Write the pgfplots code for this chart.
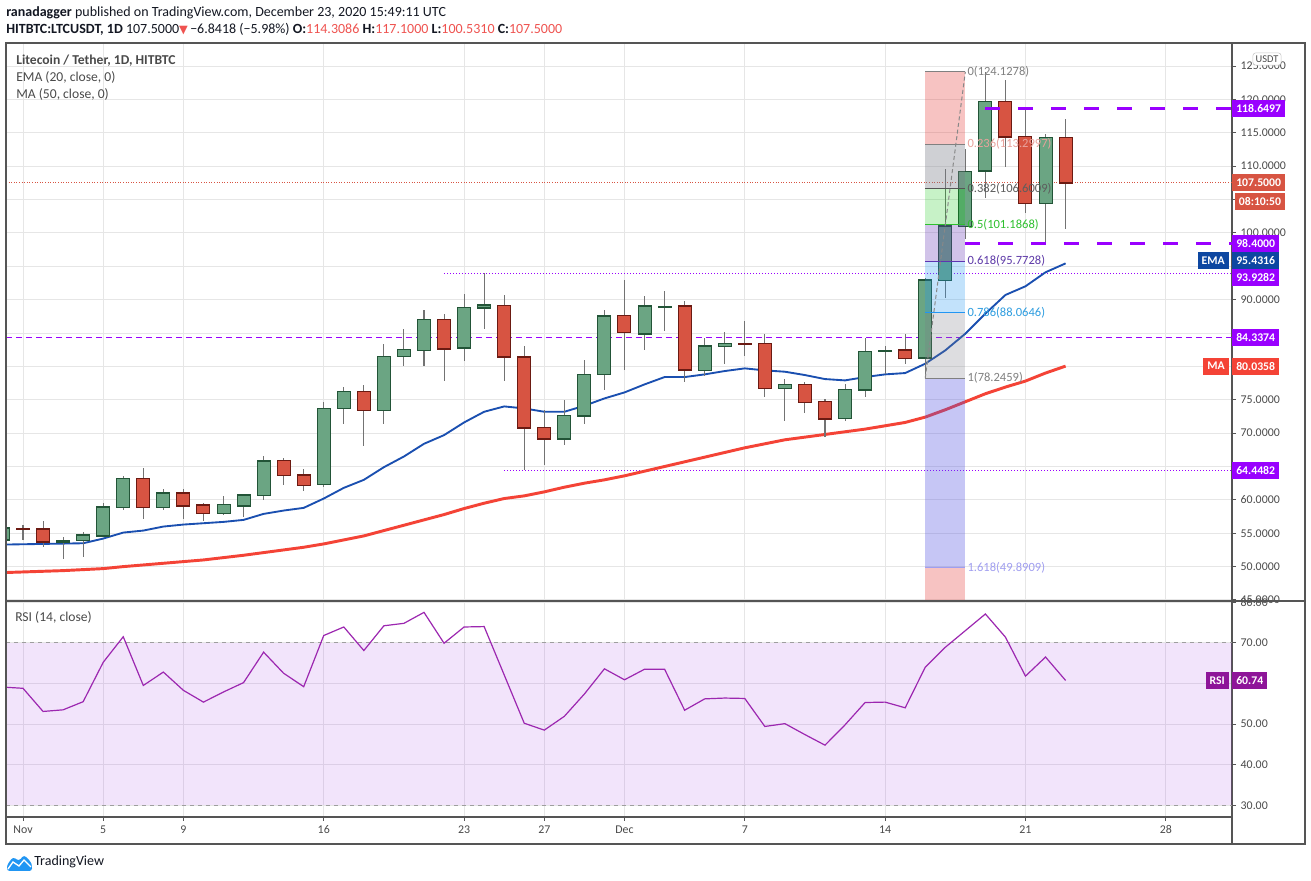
\documentclass[border=0pt]{standalone}
\usepackage{fontspec}
\setmainfont{Carlito}
\newfontfamily\dejavu{DejaVu Sans}
\usepackage{pgfplots}
\usepackage{pgfplotstable}
\pgfplotsset{compat=1.18}

\definecolor{txt}{HTML}{4A4A4A}
\definecolor{framec}{HTML}{555555}
\definecolor{gridc}{HTML}{E6E6E6}
\definecolor{upfill}{HTML}{6BA583}
\definecolor{upline}{HTML}{225437}
\definecolor{dnfill}{HTML}{D75442}
\definecolor{dnline}{HTML}{6B1A12}
\definecolor{wick}{HTML}{737373}
\definecolor{emac}{HTML}{1A4FB0}
\definecolor{mac}{HTML}{F44336}
\definecolor{vio}{HTML}{9900FF}
\definecolor{rsic}{HTML}{9C27B0}
\definecolor{rsibox}{HTML}{8E1599}
\definecolor{emabox}{HTML}{0D47A1}
\definecolor{pricered}{HTML}{D75442}
\definecolor{hdrred}{HTML}{EF5350}
\definecolor{rsifill}{RGB}{155,38,230}
\definecolor{tvblue}{HTML}{2196F3}
\definecolor{fibred}{HTML}{E53935}
\definecolor{fibgray}{HTML}{787B86}
\definecolor{fibgreen}{HTML}{00C800}
\definecolor{fibpurple}{HTML}{673AB7}
\definecolor{fibblue}{HTML}{2196F3}
\definecolor{fibperi}{HTML}{5050E0}
\definecolor{c808080}{HTML}{808080}
\definecolor{c555555}{HTML}{555555}
\definecolor{c2FC02F}{HTML}{2FC02F}
\definecolor{c5E35B1}{HTML}{5E35B1}
\definecolor{c2196F3}{HTML}{2196F3}
\definecolor{cA09EF0}{HTML}{A09EF0}
\definecolor{c888888}{HTML}{888888}
\definecolor{cE9A29C}{HTML}{E9A29C}
\definecolor{c5D5D5D}{HTML}{5D5D5D}
\definecolor{c5E3AA8}{HTML}{5E3AA8}
\definecolor{c2E9DE0}{HTML}{2E9DE0}
\definecolor{c9E9E9E}{HTML}{9E9E9E}
\definecolor{cC8C8C8}{HTML}{C8C8C8}
\definecolor{c131722}{HTML}{131722}

\newcommand\hdr{\fontsize{10.5}{12}\selectfont}
\newcommand\lgd{\fontsize{10.2}{12}\selectfont}
\newcommand\tk{\fontsize{8.9}{10}\selectfont}
\newcommand\bx{\fontsize{8.8}{10}\selectfont\bfseries}
\newcommand\fibf{\fontsize{9.4}{10}\selectfont}

% green (up) candles: day o h l c
\pgfplotstableread{
d o h l c
0 54.0 56.0 53.6 55.75
3 53.7 54.4 51.2 53.9
4 53.9 55.2 51.5 54.7
5 54.6 59.6 54.5 58.9
6 58.9 63.6 58.5 63.2
8 58.9 61.7 58.5 61.0
11 58.0 60.6 57.7 59.3
12 59.1 60.7 57.5 60.7
13 60.7 66.6 60.0 65.8
16 62.3 74.6 62.0 73.7
17 73.7 76.9 71.4 76.2
19 73.4 83.3 71.4 81.5
20 81.5 85.6 80.0 82.5
21 82.4 88.4 80.0 87.0
23 82.8 90.8 80.8 88.8
24 88.8 93.93 85.6 89.2
28 69.1 74.9 68.2 72.6
29 72.6 80.9 71.4 78.8
30 78.8 88.4 76.4 87.5
32 84.9 90.5 82.4 89.0
33 88.85 91.3 85.3 88.95
35 79.4 84.3 78.5 83.0
36 83.0 85.1 80.3 83.4
39 76.7 78.1 71.8 77.3
42 72.2 77.4 71.8 76.5
43 76.5 84.3 75.4 82.2
44 82.25 83.0 78.9 82.35
46 81.3 93.2 78.25 92.9
47 92.9 109.6 90.3 101.0
48 101.0 112.6 99.1 109.2
49 109.3 124.13 105.3 119.7
52 104.4 114.8 98.4 114.3
}\upc

% red (down) candles
\pgfplotstableread{
d o h l c
1 55.62 56.2 54.0 55.55
2 55.6 56.8 53.0 53.7
7 63.2 64.8 57.1 58.9
9 61.0 61.6 57.2 59.1
10 59.2 59.5 56.9 58.0
14 65.9 66.2 62.2 63.7
15 63.7 64.6 61.3 62.2
18 76.2 77.2 68.0 73.4
22 87.0 87.8 77.8 82.6
25 89.1 90.7 77.8 81.4
26 81.4 83.0 64.45 70.8
27 70.8 73.4 65.2 69.1
31 87.6 92.9 79.4 85.1
34 89.0 89.8 77.7 79.5
37 83.35 86.8 81.5 83.28
38 83.4 84.8 75.4 76.7
40 77.3 77.6 73.0 74.6
41 74.7 75.1 69.4 72.1
45 82.4 84.8 80.3 81.2
50 119.7 122.9 109.8 114.4
51 114.4 118.65 103.0 104.4
53 114.31 117.1 100.53 107.5
}\dnc

\pgfplotstableread{
d v
0 53.3
1 53.35
2 53.4
3 53.45
4 53.5
5 54.2
6 55.1
7 55.4
8 56.0
9 56.3
10 56.5
11 56.7
12 57.0
13 57.9
14 58.4
15 58.8
16 60.2
17 61.8
18 63.0
19 64.9
20 66.5
21 68.4
22 69.7
23 71.6
24 73.2
25 74.0
26 73.7
27 73.2
28 73.2
29 74.1
30 75.2
31 76.1
32 77.3
33 78.4
34 78.4
35 78.8
36 79.3
37 79.7
38 79.4
39 79.2
40 78.7
41 78.1
42 77.9
43 78.4
44 78.8
45 79.0
46 80.4
47 82.4
48 84.9
49 87.9
50 90.7
51 92.0
52 94.1
53 95.43
}\ema

\pgfplotstableread{
d v
0 49.1
1 49.2
2 49.3
3 49.4
4 49.55
5 49.7
6 50.0
7 50.25
8 50.5
9 50.75
10 51.0
11 51.35
12 51.7
13 52.1
14 52.5
15 52.9
16 53.4
17 54.0
18 54.6
19 55.4
20 56.2
21 57.0
22 57.8
23 58.7
24 59.5
25 60.2
26 60.6
27 61.2
28 61.9
29 62.5
30 63.0
31 63.6
32 64.3
33 65.0
34 65.7
35 66.4
36 67.1
37 67.8
38 68.4
39 69.0
40 69.4
41 69.8
42 70.2
43 70.6
44 71.1
45 71.6
46 72.4
47 73.5
48 74.7
49 75.9
50 76.9
51 77.8
52 79.0
53 80.04
}\ma

\pgfplotstableread{
d v
0 59.1
1 58.8
2 53.1
3 53.5
4 55.5
5 65.2
6 71.5
7 59.5
8 62.8
9 58.3
10 55.4
11 57.9
12 60.2
13 67.7
14 62.5
15 59.2
16 71.8
17 73.9
18 68.1
19 74.2
20 74.8
21 77.5
22 69.9
23 73.9
24 74.0
25 62.1
26 50.2
27 48.5
28 51.9
29 57.4
30 63.6
31 60.9
32 63.5
33 63.5
34 53.4
35 56.2
36 56.4
37 56.3
38 49.4
39 50.1
40 47.4
41 44.8
42 49.8
43 55.3
44 55.4
45 54.0
46 64.0
47 68.9
48 73.0
49 77.1
50 71.4
51 61.8
52 66.5
53 60.74
}\rsi

\pgfplotsset{candle/.style={only marks, mark=*, mark size=0pt, mark options={draw=none, fill=none, opacity=0}, forget plot}}

\newcommand{\candles}[3]{%
\addplot[candle, error bars/.cd, y dir=both, y explicit, error mark=none,
  error bar style={line width=0.8pt, wick}]
  table[x=d, y expr={(\thisrow{h}+\thisrow{l})/2}, y error expr={(\thisrow{h}-\thisrow{l})/2}] {#1};
\addplot[candle, error bars/.cd, y dir=both, y explicit, error mark=none,
  error bar style={line width=10.5pt, #2}]
  table[x=d, y expr={(\thisrow{o}+\thisrow{c})/2}, y error expr={abs(\thisrow{o}-\thisrow{c})/2+0.13}] {#1};
\addplot[candle, error bars/.cd, y dir=both, y explicit, error mark=none,
  error bar style={line width=9pt, #3}]
  table[x=d, y expr={(\thisrow{o}+\thisrow{c})/2}, y error expr={max(abs(\thisrow{o}-\thisrow{c})/2-0.1,0)}] {#1};
}

\newcommand{\fibbox}[3]{% top bottom style
\addplot[draw=none, forget plot, #3] coordinates {(46,#1) (48,#1) (48,#2) (46,#2)} -- cycle;
}

\pgfplotsset{tvaxis/.style={
  scale only axis, width=919.5pt, xmin=0.152, xmax=61.3,
  axis line style={framec, line width=1pt},
  grid style={gridc, line width=0.75pt},
  xtick={1,5,9,16,23,27,31,37,44,51,58},
  xmajorgrids, ymajorgrids,
  ytick pos=right, yticklabel pos=right,
  tick align=outside, major tick length=3pt,
  tick style={framec, line width=0.75pt},
  ticklabel style={font=\tk, text=txt},
  yticklabel style={anchor=west},
  clip mode=individual, anchor=south west}}

\begin{document}
\begin{tikzpicture}
\path[use as bounding box, fill=white] (0,0) rectangle (983.25pt,660.75pt);

% ===== main price panel =====
\begin{axis}[tvaxis, at={(4.5pt,210pt)}, height=418.5pt,
  ymin=44.85, ymax=128.45, ytick={45,50,...,125},
  xticklabels={}, xtick style={draw=none},
  yticklabels={45.0000,50.0000,55.0000,60.0000,{},70.0000,75.0000,{},{},90.0000,{},100.0000,{},110.0000,115.0000,120.0000,125.0000}]

\addplot[vio, line width=0.9pt, dash pattern=on 4.5pt off 3pt] coordinates {(0.152,84.3374) (61.3,84.3374)};
\addplot[vio, line width=1pt, dash pattern=on 0.75pt off 1.5pt] coordinates {(22,93.9282) (61.3,93.9282)};
\addplot[vio, line width=1pt, dash pattern=on 0.75pt off 1.5pt] coordinates {(25,64.4482) (61.3,64.4482)};
\addplot[pricered, line width=0.9pt, dash pattern=on 0.75pt off 1.2pt] coordinates {(0.152,107.5) (61.3,107.5)};

\addplot[mac, line width=2.2pt] table[x=d,y=v] {\ma};
\addplot[emac, line width=1.4pt] table[x=d,y=v] {\ema};

\candles{\upc}{upline}{upfill}
\candles{\dnc}{dnline}{dnfill}

% Fibonacci retracement overlay
\fibbox{124.1278}{113.2997}{fill=fibred, fill opacity=0.3}
\fibbox{113.2997}{106.6009}{fill=fibgray, fill opacity=0.35}
\fibbox{106.6009}{101.1868}{fill=fibgreen, fill opacity=0.22}
\fibbox{101.1868}{95.7728}{fill=fibpurple, fill opacity=0.3}
\fibbox{95.7728}{88.0646}{fill=fibblue, fill opacity=0.27}
\fibbox{88.0646}{78.2459}{fill=fibgray, fill opacity=0.25}
\fibbox{78.2459}{49.8909}{fill=fibperi, fill opacity=0.32}
\fibbox{49.8909}{44.85}{fill=fibred, fill opacity=0.3}

\addplot[forget plot, color=c808080, line width=0.75pt] coordinates {(46,124.1278) (48,124.1278)};
\addplot[forget plot, color=gray, line width=0.75pt] coordinates {(46,113.2997) (48,113.2997)};
\addplot[forget plot, color=c555555, line width=0.75pt] coordinates {(46,106.6009) (48,106.6009)};
\addplot[forget plot, color=c2FC02F, line width=0.75pt] coordinates {(46,101.1868) (48,101.1868)};
\addplot[forget plot, color=c5E35B1, line width=0.75pt] coordinates {(46,95.7728) (48,95.7728)};
\addplot[forget plot, color=c2196F3, line width=0.75pt] coordinates {(46,88.0646) (48,88.0646)};
\addplot[forget plot, color=c808080, line width=0.75pt] coordinates {(46,78.2459) (48,78.2459)};
\addplot[forget plot, color=cA09EF0, line width=0.75pt] coordinates {(46,49.8909) (48,49.8909)};
\addplot[forget plot, color=c888888, line width=0.75pt, dash pattern=on 3pt off 2pt] coordinates {(46,78.2459) (48,124.1278)};

\node[anchor=west, inner sep=1.5pt, font=\fibf, text=c808080] at (axis cs:48,124.1278) {0(124.1278)};
\node[anchor=west, inner sep=1.5pt, font=\fibf, text=cE9A29C] at (axis cs:48,113.2997) {0.236(113.2997)};
\node[anchor=west, inner sep=1.5pt, font=\fibf, text=c5D5D5D] at (axis cs:48,106.6009) {0.382(106.6009)};
\node[anchor=west, inner sep=1.5pt, font=\fibf, text=c2FC02F] at (axis cs:48,101.1868) {0.5(101.1868)};
\node[anchor=west, inner sep=1.5pt, font=\fibf, text=c5E3AA8] at (axis cs:48,95.7728) {0.618(95.7728)};
\node[anchor=west, inner sep=1.5pt, font=\fibf, text=c2E9DE0] at (axis cs:48,88.0646) {0.786(88.0646)};
\node[anchor=west, inner sep=1.5pt, font=\fibf, text=c808080] at (axis cs:48,78.2459) {1(78.2459)};
\node[anchor=west, inner sep=1.5pt, font=\fibf, text=cA09EF0] at (axis cs:48,49.8909) {1.618(49.8909)};

\addplot[vio, line width=2.25pt, dash pattern=on 11.25pt off 13.5pt] coordinates {(49,118.6497) (61.3,118.6497)};
\addplot[vio, line width=2.25pt, dash pattern=on 11.25pt off 13.5pt] coordinates {(48,98.4) (61.3,98.4)};

\coordinate (b118) at (axis cs:61.3,118.6497);
\coordinate (b107) at (axis cs:61.3,107.5);
\coordinate (b98) at (axis cs:61.3,98.4);
\coordinate (bema) at (axis cs:61.3,95.4316);
\coordinate (b939) at (axis cs:61.3,93.9282);
\coordinate (b843) at (axis cs:61.3,84.3374);
\coordinate (bma) at (axis cs:61.3,80.0358);
\coordinate (b644) at (axis cs:61.3,64.4482);
\end{axis}

% ===== RSI panel =====
\begin{axis}[tvaxis, at={(4.5pt,48pt)}, height=162pt,
  ymin=27.11, ymax=80.3, ytick={30,40,...,80},
  xtick pos=bottom,
  xticklabels={Nov,5,9,16,23,27,Dec,7,14,21,28},
  yticklabels={30.00,40.00,50.00,{},70.00,80.00}]
\addplot[draw=none, fill=rsifill, fill opacity=0.12, forget plot] coordinates {(0.152,30) (61.3,30) (61.3,70) (0.152,70)} -- cycle;
\addplot[c9E9E9E, line width=0.75pt, dash pattern=on 3pt off 3pt] coordinates {(0.152,70) (61.3,70)};
\addplot[c9E9E9E, line width=0.75pt, dash pattern=on 3pt off 3pt] coordinates {(0.152,30) (61.3,30)};
\addplot[rsic, line width=0.9pt] table[x=d,y=v] {\rsi};
\coordinate (brsi) at (axis cs:61.3,60.74);
\end{axis}

% ===== price scale label boxes =====
\tikzset{pbox/.style={anchor=west, inner xsep=3pt, inner ysep=0pt, minimum height=12.75pt, text=white, font=\bx}}
\node[pbox, fill=vio] at (b118) {118.6497};
\node[pbox, fill=pricered] (p107) at (b107) {107.5000};
\node[anchor=north east, inner xsep=3pt, inner ysep=0pt, minimum height=12.75pt, text=white, font=\bx, fill=pricered] at ([yshift=-0.75pt]p107.south east) {08:10:50};
\node[pbox, fill=vio] at (b98) {98.4000};
\node[pbox, fill=emabox] at ([yshift=1.8pt]bema) {95.4316};
\node[pbox, fill=emabox, anchor=east] at ([xshift=-2.25pt,yshift=1.8pt]bema) {EMA};
\node[pbox, fill=vio] at ([yshift=-3pt]b939) {93.9282};
\node[pbox, fill=vio] at (b843) {84.3374};
\node[pbox, fill=mac] at (bma) {80.0358};
\node[pbox, fill=mac, anchor=east] at ([xshift=-2.25pt]bma) {MA};
\node[pbox, fill=vio] at (b644) {64.4482};
\node[pbox, fill=rsibox] at (brsi) {60.74};
\node[pbox, fill=rsibox, anchor=east] at ([xshift=-2.25pt]brsi) {RSI};

% ===== decorations in pixel coordinates =====
\begin{scope}[x=0.75pt, y=-0.75pt, shift={(0pt,660.75pt)}]
\draw[framec, line width=1pt] (6,43) rectangle (1305,844);
\draw[framec, line width=1pt] (1232,601) -- (1305,601);
\draw[framec, line width=1pt] (1232,817) -- (1232,844);
\node[draw=cC8C8C8, rounded corners=2pt, fill=white, font=\fontsize{7.8}{9}\selectfont, text=txt, inner xsep=2pt, inner ysep=2pt] at (1267,59) {USDT};

\node[anchor=base west, inner sep=0pt, font=\hdr, text=c131722] at (6,16.5)
  {\textbf{ranadagger} published on TradingView.com, December 23, 2020 15:49:11 UTC};
\node[anchor=base west, inner sep=0pt, font=\hdr, text=c131722] at (6,33.5)
  {\textbf{HITBTC:LTCUSDT, 1D}\ 107.5000{\dejavu\fontsize{8.5}{9}\selectfont\color{hdrred}▼}\,−6.8418 (−5.98\%) \textbf{O:}\textcolor{hdrred}{114.3086} \textbf{H:}\textcolor{hdrred}{117.1000} \textbf{L:}\textcolor{hdrred}{100.5310} \textbf{C:}\textcolor{hdrred}{107.5000}};

\node[anchor=base west, inner sep=0pt, font=\lgd\bfseries, text=txt] at (16,65) {Litecoin / Tether, 1D, HITBTC};
\node[anchor=base west, inner sep=0pt, font=\lgd, text=txt] at (16,82) {EMA (20, close, 0)};
\node[anchor=base west, inner sep=0pt, font=\lgd, text=txt] at (16,99) {MA (50, close, 0)};
\node[anchor=base west, inner sep=0pt, font=\lgd, text=txt] at (15,622) {RSI (14, close)};

\fill[tvblue, rounded corners=2pt] (7,871) -- (7,865) -- (13,857) -- (19,861) -- (24,855) -- (31,862) -- (32,866) -- (32,871) -- cycle;
\draw[white, line width=1pt] (8,869) -- (13,862) -- (19,866) -- (24,860) -- (31,867);
\node[anchor=west, inner sep=0pt, font=\fontsize{10.5}{12}\selectfont, text=c131722] at (34,862) {TradingView};
\end{scope}
\end{tikzpicture}
\end{document}
